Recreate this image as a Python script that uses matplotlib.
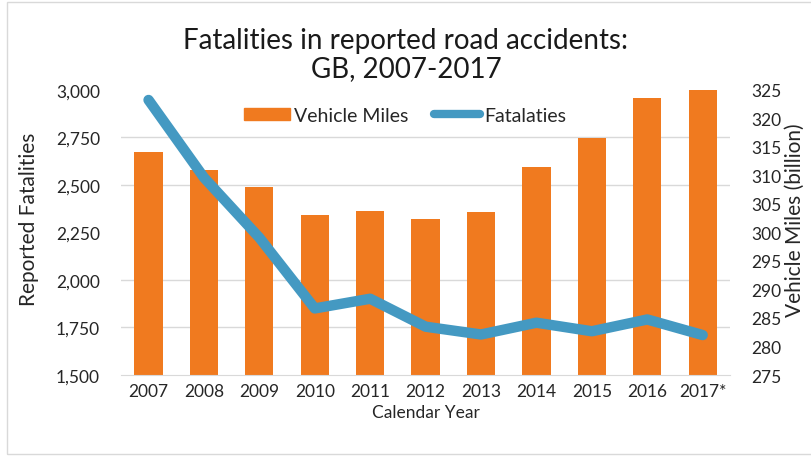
import numpy as np
import matplotlib
matplotlib.use("Agg")
import matplotlib.pyplot as plt
from matplotlib.patches import Rectangle
from matplotlib.lines import Line2D

years = ["2007", "2008", "2009", "2010", "2011", "2012", "2013", "2014", "2015", "2016", "2017*"]
vehicle_miles = [314.0, 311.0, 307.9, 303.1, 303.7, 302.3, 303.6, 311.4, 316.5, 323.5, 325.0]
fatalities = [2946, 2538, 2222, 1850, 1901, 1754, 1713, 1775, 1730, 1792, 1710]

orange = "#F07A1F"
blue = "#4499C2"
grid_c = "#D9D9D9"
txt = "#262626"

plt.rcParams["font.family"] = ["Lato", "DejaVu Sans"]

fig = plt.figure(figsize=(8.12, 4.6), dpi=100)
ax = fig.add_axes([0.1488, 0.1826, 0.7507, 0.6202])
ax2 = ax.twinx()
x = np.arange(len(years))

# bars on the right-hand axis (drawn first, below the line)
ax.bar(x, vehicle_miles, width=0.51, color=orange, zorder=2)
ax.set_ylim(275, 325)
ax.set_xlim(-0.5, len(years) - 0.5)
ax.set_yticks(np.arange(275, 326, 5))
ax.set_yticks(np.linspace(275, 325, 7), minor=True)
ax.yaxis.grid(True, which="minor", color=grid_c, linewidth=1, zorder=0)
ax.set_axisbelow(True)
ax.yaxis.tick_right()
ax.yaxis.set_label_position("right")
ax.tick_params(axis="y", which="both", length=0, pad=15, labelsize=12.5, labelcolor=txt)
ax.set_ylabel("Vehicle Miles (billion)", fontsize=15, color=txt)
ax.yaxis.set_label_coords(1.0896, 0.547)
ax.set_xticks(x)
ax.set_xticklabels(years)
ax.tick_params(axis="x", length=0, pad=6, labelsize=12.5, labelcolor=txt)
ax.set_xlabel("Calendar Year", fontsize=12.5, color=txt, labelpad=3)
for s in ["top", "left", "right"]:
    ax.spines[s].set_visible(False)
ax.spines["bottom"].set_color(grid_c)

# line on the left-hand axis
ax2.plot(x, fatalities, color=blue, linewidth=7.5, solid_capstyle="round",
         solid_joinstyle="round", zorder=3)
ax2.set_ylim(1500, 3000)
ax2.set_yticks(np.arange(1500, 3001, 250))
ax2.set_yticklabels([f"{v:,}" for v in range(1500, 3001, 250)])
ax2.yaxis.tick_left()
ax2.yaxis.set_label_position("left")
ax2.tick_params(axis="y", length=0, pad=15, labelsize=12.5, labelcolor=txt)
ax2.set_ylabel("Reported Fatalities", fontsize=15, color=txt)
ax2.yaxis.set_label_coords(-0.134, 0.55)
for s in ax2.spines.values():
    s.set_visible(False)

handles = [Rectangle((0, 0), 1, 1, color=orange),
           Line2D([0], [0], color=blue, linewidth=6, solid_capstyle="round")]
ax2.legend(handles, ["Vehicle Miles", "Fatalaties"], loc="center",
           bbox_to_anchor=(0.466, 0.911), ncol=2, frameon=False, fontsize=14,
           handlelength=2.4, handleheight=0.55, columnspacing=1.3, handletextpad=0.2,
           labelcolor=txt)

fig.text(0.5, 0.88, "Fatalities in reported road accidents:\nGB, 2007-2017",
         ha="center", va="center", fontsize=20, color="#1a1a1a", linespacing=1.1)

fig.patches.append(Rectangle((7 / 812, 5 / 460), 1.0, 452 / 460, transform=fig.transFigure,
                             fill=False, edgecolor="#D9D9D9", linewidth=1))

fig.savefig("out.png", dpi=100)
